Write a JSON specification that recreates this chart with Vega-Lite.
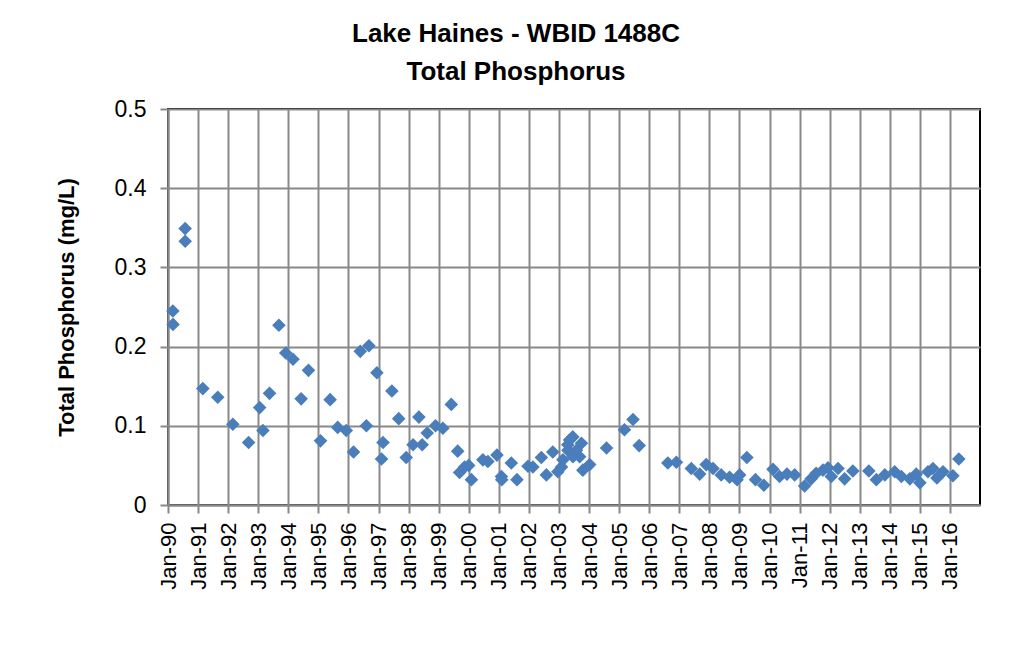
{
  "$schema": "https://vega.github.io/schema/vega-lite/v6.json",
  "autosize": "none",
  "width": 812,
  "height": 396,
  "padding": {"left": 168, "top": 109, "right": 41, "bottom": 143},
  "background": "white",
  "title": {
    "text": ["Lake Haines - WBID 1488C", "Total Phosphorus"],
    "font": "Liberation Sans",
    "fontSize": 26,
    "fontWeight": "bold",
    "color": "black",
    "lineHeight": 38,
    "anchor": "middle",
    "dx": -58,
    "offset": 13
  },
  "data": {
    "values": [
      {"date": "1990-03-01T00:00:00", "tp": 0.245},
      {"date": "1990-03-03T00:00:00", "tp": 0.228},
      {"date": "1990-07-28T00:00:00", "tp": 0.349},
      {"date": "1990-07-29T00:00:00", "tp": 0.333},
      {"date": "1991-02-28T00:00:00", "tp": 0.147},
      {"date": "1991-08-28T00:00:00", "tp": 0.136},
      {"date": "1992-02-27T00:00:00", "tp": 0.102},
      {"date": "1992-09-06T00:00:00", "tp": 0.079},
      {"date": "1993-01-18T00:00:00", "tp": 0.123},
      {"date": "1993-02-27T00:00:00", "tp": 0.094},
      {"date": "1993-05-18T00:00:00", "tp": 0.141},
      {"date": "1993-09-09T00:00:00", "tp": 0.227},
      {"date": "1993-12-01T00:00:00", "tp": 0.192},
      {"date": "1994-02-27T00:00:00", "tp": 0.184},
      {"date": "1994-06-06T00:00:00", "tp": 0.134},
      {"date": "1994-09-03T00:00:00", "tp": 0.170},
      {"date": "1995-01-27T00:00:00", "tp": 0.081},
      {"date": "1995-05-24T00:00:00", "tp": 0.133},
      {"date": "1995-08-24T00:00:00", "tp": 0.098},
      {"date": "1995-12-06T00:00:00", "tp": 0.094},
      {"date": "1996-03-03T00:00:00", "tp": 0.067},
      {"date": "1996-05-24T00:00:00", "tp": 0.194},
      {"date": "1996-08-06T00:00:00", "tp": 0.100},
      {"date": "1996-09-06T00:00:00", "tp": 0.201},
      {"date": "1996-12-12T00:00:00", "tp": 0.167},
      {"date": "1997-02-06T00:00:00", "tp": 0.058},
      {"date": "1997-02-24T00:00:00", "tp": 0.079},
      {"date": "1997-06-12T00:00:00", "tp": 0.144},
      {"date": "1997-09-03T00:00:00", "tp": 0.109},
      {"date": "1997-12-03T00:00:00", "tp": 0.060},
      {"date": "1998-02-24T00:00:00", "tp": 0.076},
      {"date": "1998-05-06T00:00:00", "tp": 0.111},
      {"date": "1998-06-15T00:00:00", "tp": 0.076},
      {"date": "1998-08-15T00:00:00", "tp": 0.091},
      {"date": "1998-11-24T00:00:00", "tp": 0.100},
      {"date": "1999-02-21T00:00:00", "tp": 0.097},
      {"date": "1999-06-03T00:00:00", "tp": 0.127},
      {"date": "1999-09-12T00:00:00", "tp": 0.041},
      {"date": "1999-08-20T00:00:00", "tp": 0.068},
      {"date": "1999-11-12T00:00:00", "tp": 0.048},
      {"date": "2000-01-01T00:00:00", "tp": 0.050},
      {"date": "2000-02-03T00:00:00", "tp": 0.032},
      {"date": "2000-06-21T00:00:00", "tp": 0.057},
      {"date": "2000-08-21T00:00:00", "tp": 0.055},
      {"date": "2000-12-09T00:00:00", "tp": 0.063},
      {"date": "2001-02-01T00:00:00", "tp": 0.036},
      {"date": "2001-02-05T00:00:00", "tp": 0.032},
      {"date": "2001-06-01T00:00:00", "tp": 0.053},
      {"date": "2001-08-09T00:00:00", "tp": 0.032},
      {"date": "2001-12-21T00:00:00", "tp": 0.049},
      {"date": "2002-02-18T00:00:00", "tp": 0.048},
      {"date": "2002-06-01T00:00:00", "tp": 0.060},
      {"date": "2002-08-01T00:00:00", "tp": 0.038},
      {"date": "2002-10-18T00:00:00", "tp": 0.067},
      {"date": "2002-12-18T00:00:00", "tp": 0.042},
      {"date": "2003-02-01T00:00:00", "tp": 0.048},
      {"date": "2003-02-18T00:00:00", "tp": 0.057},
      {"date": "2003-04-18T00:00:00", "tp": 0.076},
      {"date": "2003-04-20T00:00:00", "tp": 0.069},
      {"date": "2003-05-09T00:00:00", "tp": 0.082},
      {"date": "2003-06-18T00:00:00", "tp": 0.086},
      {"date": "2003-06-20T00:00:00", "tp": 0.061},
      {"date": "2003-08-01T00:00:00", "tp": 0.069},
      {"date": "2003-10-01T00:00:00", "tp": 0.078},
      {"date": "2003-09-09T00:00:00", "tp": 0.061},
      {"date": "2003-10-18T00:00:00", "tp": 0.044},
      {"date": "2004-01-09T00:00:00", "tp": 0.051},
      {"date": "2004-08-01T00:00:00", "tp": 0.072},
      {"date": "2005-03-06T00:00:00", "tp": 0.095},
      {"date": "2005-06-18T00:00:00", "tp": 0.108},
      {"date": "2005-09-01T00:00:00", "tp": 0.075},
      {"date": "2006-08-15T00:00:00", "tp": 0.053},
      {"date": "2006-11-27T00:00:00", "tp": 0.054},
      {"date": "2007-05-27T00:00:00", "tp": 0.046},
      {"date": "2007-09-06T00:00:00", "tp": 0.039},
      {"date": "2007-11-24T00:00:00", "tp": 0.051},
      {"date": "2008-02-15T00:00:00", "tp": 0.046},
      {"date": "2008-05-24T00:00:00", "tp": 0.038},
      {"date": "2008-09-03T00:00:00", "tp": 0.035},
      {"date": "2008-12-03T00:00:00", "tp": 0.032},
      {"date": "2009-01-03T00:00:00", "tp": 0.038},
      {"date": "2009-04-01T00:00:00", "tp": 0.060},
      {"date": "2009-07-15T00:00:00", "tp": 0.032},
      {"date": "2009-10-24T00:00:00", "tp": 0.025},
      {"date": "2010-02-12T00:00:00", "tp": 0.045},
      {"date": "2010-05-03T00:00:00", "tp": 0.036},
      {"date": "2010-08-01T00:00:00", "tp": 0.039},
      {"date": "2010-11-03T00:00:00", "tp": 0.038},
      {"date": "2011-03-03T00:00:00", "tp": 0.024},
      {"date": "2011-05-21T00:00:00", "tp": 0.033},
      {"date": "2011-07-21T00:00:00", "tp": 0.040},
      {"date": "2011-10-12T00:00:00", "tp": 0.044},
      {"date": "2011-12-12T00:00:00", "tp": 0.047},
      {"date": "2012-01-21T00:00:00", "tp": 0.036},
      {"date": "2012-04-12T00:00:00", "tp": 0.046},
      {"date": "2012-07-01T00:00:00", "tp": 0.033},
      {"date": "2012-10-09T00:00:00", "tp": 0.043},
      {"date": "2013-04-21T00:00:00", "tp": 0.043},
      {"date": "2013-07-21T00:00:00", "tp": 0.032},
      {"date": "2013-11-01T00:00:00", "tp": 0.038},
      {"date": "2014-03-01T00:00:00", "tp": 0.042},
      {"date": "2014-05-21T00:00:00", "tp": 0.036},
      {"date": "2014-09-01T00:00:00", "tp": 0.033},
      {"date": "2014-11-18T00:00:00", "tp": 0.039},
      {"date": "2015-01-01T00:00:00", "tp": 0.028},
      {"date": "2015-04-09T00:00:00", "tp": 0.042},
      {"date": "2015-06-09T00:00:00", "tp": 0.046},
      {"date": "2015-07-27T00:00:00", "tp": 0.034},
      {"date": "2015-10-09T00:00:00", "tp": 0.042},
      {"date": "2016-02-06T00:00:00", "tp": 0.037},
      {"date": "2016-04-18T00:00:00", "tp": 0.058}
    ]
  },
  "mark": {"type": "point", "shape": "diamond", "filled": true, "size": 185, "opacity": 1, "color": "#4A7EBB", "strokeWidth": 0},
  "encoding": {
    "x": {
      "field": "date",
      "type": "temporal",
      "scale": {"domain": [{"year": 1990, "month": 1, "date": 1}, {"year": 2016, "month": 12, "date": 31}], "nice": false},
      "axis": {
        "title": null,
        "format": "%b-%y",
        "tickCount": {"interval": "year", "step": 1},
        "labelAngle": -90,
        "labelFont": "Liberation Sans",
        "labelFontSize": 22,
        "labelColor": "black",
        "labelPadding": 9,
        "labelOverlap": false,
        "labelFlush": false,
        "tickSize": 8,
        "tickColor": "#898989",
        "tickWidth": 2,
        "domainColor": "#898989",
        "domainWidth": 2,
        "gridColor": "#898989",
        "gridWidth": 2
      }
    },
    "y": {
      "field": "tp",
      "type": "quantitative",
      "scale": {"domain": [0, 0.5], "nice": false, "zero": true},
      "axis": {
        "title": "Total Phosphorus (mg/L)",
        "titleFont": "Liberation Sans",
        "titleFontSize": 22,
        "titleFontWeight": "bold",
        "titleColor": "black",
        "titleAngle": -90,
        "titleAlign": "center",
        "titleBaseline": "middle",
        "titleX": -102,
        "titleY": 198,
        "values": [0, 0.1, 0.2, 0.3, 0.4, 0.5],
        "format": "~g",
        "labelFont": "Liberation Sans",
        "labelFontSize": 23,
        "labelColor": "black",
        "labelPadding": 14,
        "tickSize": 8,
        "tickColor": "#898989",
        "tickWidth": 2,
        "domainColor": "#898989",
        "domainWidth": 2,
        "gridColor": "#898989",
        "gridWidth": 2
      }
    }
  },
  "config": {
    "view": {"stroke": "black", "strokeWidth": 2}
  }
}
